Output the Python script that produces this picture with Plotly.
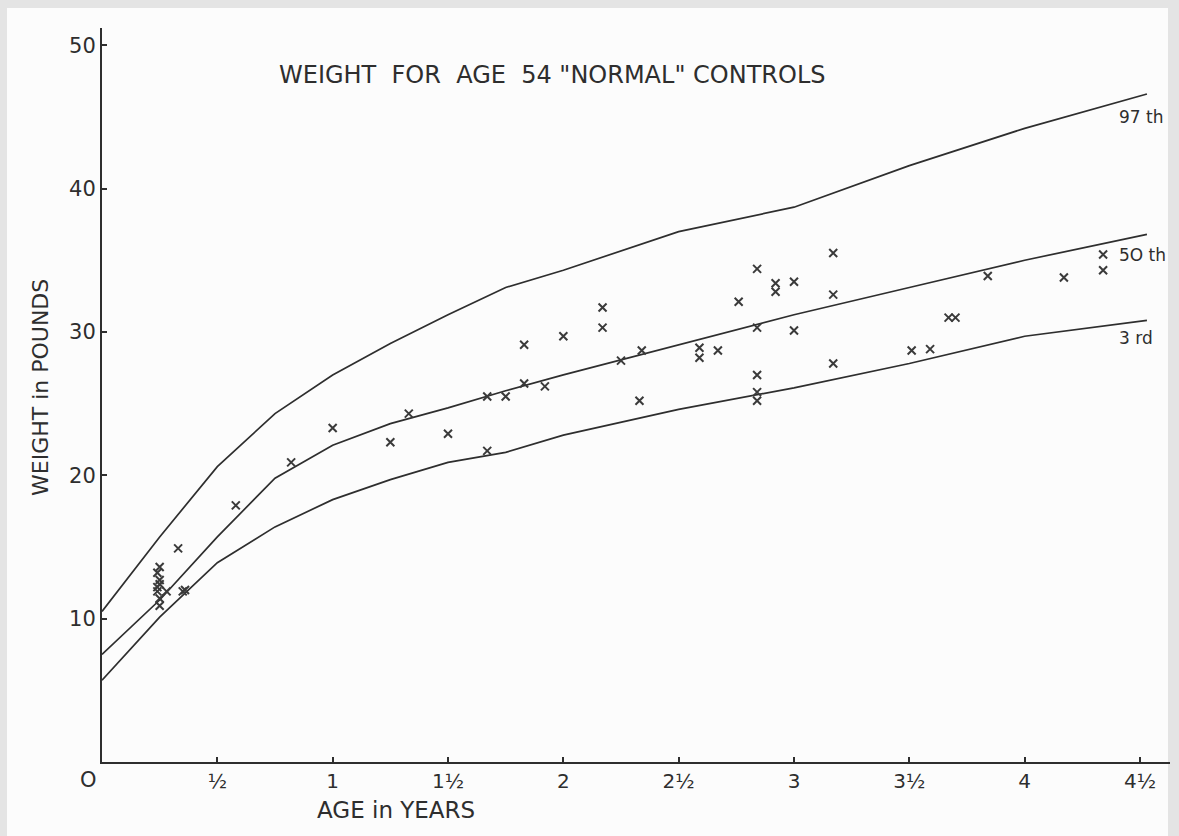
import plotly.graph_objects as go

# ---- percentile curves (age in years, weight in pounds) ----
curve_age = [0, 0.25, 0.5, 0.75, 1.0, 1.25, 1.5, 1.75, 2.0, 2.5, 3.0, 3.5, 4.0, 4.53]
p97 = [10.5, 15.7, 20.6, 24.3, 27.0, 29.2, 31.2, 33.1, 34.3, 37.0, 38.7, 41.6, 44.2, 46.6]
p50 = [7.5, 11.3, 15.7, 19.8, 22.1, 23.6, 24.7, 25.9, 27.0, 29.1, 31.2, 33.1, 35.0, 36.8]
p3 = [5.7, 10.1, 13.9, 16.4, 18.3, 19.7, 20.9, 21.6, 22.8, 24.6, 26.1, 27.8, 29.7, 30.8]

# ---- 54 "normal" controls ----
ctrl_age = [0.25, 0.24, 0.25, 0.24, 0.24, 0.25, 0.25, 0.25, 0.28, 0.35, 0.36,
            0.33, 0.58, 0.82, 1.0, 1.25, 1.33, 1.5, 1.67, 1.67, 1.75, 1.83,
            1.83, 1.92, 2.0, 2.17, 2.17, 2.25, 2.33, 2.34, 2.59, 2.59, 2.67,
            2.76, 2.84, 2.84, 2.84, 2.84, 2.84, 2.92, 2.92, 3.0, 3.0, 3.17,
            3.17, 3.17, 3.51, 3.59, 3.67, 3.70, 3.84, 4.17, 4.34, 4.34]
ctrl_wt = [13.6, 13.2, 12.7, 12.2, 11.9, 11.4, 10.9, 12.4, 11.9, 11.9, 12.0,
           14.9, 17.9, 20.9, 23.3, 22.3, 24.3, 22.9, 25.5, 21.7, 25.5, 26.4,
           29.1, 26.2, 29.7, 31.7, 30.3, 28.0, 25.2, 28.7, 28.9, 28.2, 28.7,
           32.1, 34.4, 30.3, 27.0, 25.8, 25.2, 33.4, 32.8, 33.5, 30.1, 35.5,
           32.6, 27.8, 28.7, 28.8, 31.0, 31.0, 33.9, 33.8, 34.3, 35.4]

x_tickvals = [0.5, 1, 1.5, 2, 2.5, 3, 3.5, 4, 4.5]
x_ticktext = ["½", "1", "1½", "2", "2½", "3", "3½", "4", "4½"]
y_tickvals = [10, 20, 30, 40, 50]
y_ticktext = ["10", "20", "30", "40", "50"]

curve_labels = ["97 th", "5O th", "3 rd"]
curve_label_pos = [45.0, 35.4, 29.6]

INK = "#2e2e2e"
FONT = "DejaVu Sans"

W, H = 1179, 836
ML, MR, MT, MB = 102, 9, 28, 74

fig = go.Figure()
for vals in (p97, p50, p3):
    fig.add_trace(go.Scatter(x=curve_age, y=vals, mode="lines",
                             line=dict(color=INK, width=1.7),
                             hoverinfo="skip", showlegend=False))
fig.add_trace(go.Scatter(x=ctrl_age, y=ctrl_wt, mode="markers",
                         marker=dict(symbol="x-thin", size=8,
                                     line=dict(color="#3a3a3a", width=2)),
                         showlegend=False))

for txt, yv in zip(curve_labels, curve_label_pos):
    fig.add_annotation(x=4.40, y=yv, text=txt, showarrow=False, xanchor="left",
                       yanchor="middle", font=dict(family=FONT, size=17, color=INK))

# x-axis zero label, slightly left of origin
fig.add_annotation(x=0, y=0, text="O", showarrow=False, xanchor="center",
                   yanchor="top", xshift=-14, yshift=-4,
                   font=dict(family=FONT, size=21, color=INK))


def px(xp):
    return (xp - ML) / (W - ML - MR)


def py(yp):
    return (H - MB - yp) / (H - MT - MB)


# title and axis titles
fig.add_annotation(x=px(552), y=py(75), xref="paper", yref="paper",
                   text='WEIGHT  FOR  AGE  54 "NORMAL" CONTROLS',
                   showarrow=False, xanchor="center", yanchor="middle",
                   font=dict(family=FONT, size=24, color=INK))
fig.add_annotation(x=px(396), y=py(810), xref="paper", yref="paper",
                   text="AGE in YEARS",
                   showarrow=False, xanchor="center", yanchor="middle",
                   font=dict(family=FONT, size=23, color=INK))
fig.add_annotation(x=px(40), y=py(388), xref="paper", yref="paper",
                   text="WEIGHT in POUNDS", textangle=-90,
                   showarrow=False, xanchor="center", yanchor="middle",
                   font=dict(family=FONT, size=22, color=INK))

# light grey photo borders
border = "#e4e4e4"
for x0, y0, x1, y1 in [(0, 0, W, 8), (0, 0, 7, H), (1168, 0, W, H)]:
    fig.add_shape(type="rect", xref="paper", yref="paper",
                  x0=px(x0), x1=px(x1), y0=py(y1), y1=py(y0),
                  fillcolor=border, line=dict(width=0), layer="below")

fig.update_xaxes(range=[0, 4.63], showline=True, linecolor=INK, linewidth=2,
                 tickvals=x_tickvals, ticktext=x_ticktext, ticks="inside",
                 ticklen=5, tickcolor=INK, tickwidth=1.5, showgrid=False,
                 zeroline=False, tickfont=dict(family=FONT, size=20, color=INK))
fig.update_yaxes(range=[0, 51.2], showline=True, linecolor=INK, linewidth=2,
                 tickvals=y_tickvals, ticktext=y_ticktext, ticks="inside",
                 ticklen=5, tickcolor=INK, tickwidth=1.5, showgrid=False,
                 zeroline=False, tickfont=dict(family=FONT, size=21, color=INK))

fig.update_layout(width=W, height=H, margin=dict(l=ML, r=MR, t=MT, b=MB),
                  paper_bgcolor="#fcfcfc", plot_bgcolor="rgba(0,0,0,0)",
                  showlegend=False)

fig.write_html("out.html")
